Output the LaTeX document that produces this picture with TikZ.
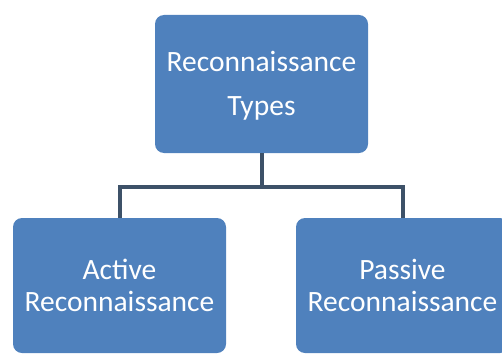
\documentclass[tikz,border=0pt]{standalone}
\usepackage{fontspec}
\setmainfont{Carlito}

\definecolor{boxblue}{HTML}{4F81BD}
\definecolor{linkgrey}{HTML}{3D5168}

\tikzset{
    typebox/.style={draw=none, fill=boxblue, rounded corners=9pt, text=white,
        align=center, minimum width=213pt, inner sep=0pt},
    link/.style={draw=linkgrey, line width=4pt}
}

\begin{document}
\begin{tikzpicture}[x=1pt, y=1pt]
            \useasboundingbox (0, 0) rectangle (502, 354);

            \node[typebox, minimum height=138pt, font=\fontsize{29.5}{44}\selectfont, text depth=2pt] (types) at (261.5, 270) {Reconnaissance\\Types};

            \node[typebox, minimum height=135pt, font=\fontsize{29.5}{32}\selectfont, text depth=-6pt] (active) at (119.5, 68.5) {Active\\Reconnaissance};

            \node[typebox, minimum height=135pt, font=\fontsize{29.5}{32}\selectfont, text depth=-6pt] (passive) at (402.5, 68.5) {Passive\\Reconnaissance};

            \coordinate (split) at (261.5, 167);

            \draw[link] (types.south) -- (split);

            \draw[link] (split) -| (active.north);

            \draw[link] (split) -| (passive.north);
        \end{tikzpicture}
\end{document}
